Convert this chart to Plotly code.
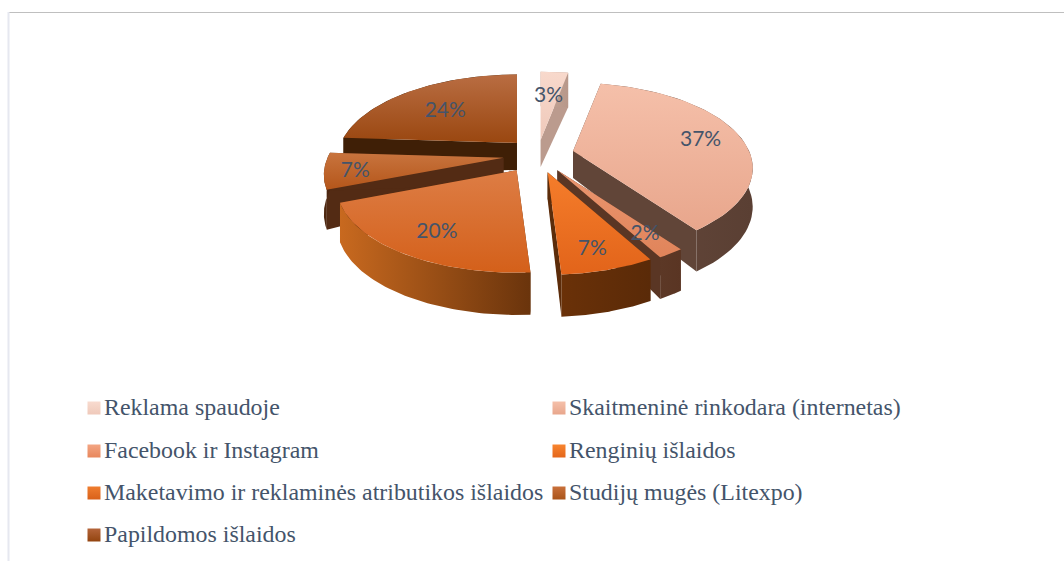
import numpy as np
import plotly.graph_objects as go

categories = ["Reklama spaudoje", "Skaitmeninė rinkodara (internetas)", "Facebook ir Instagram",
              "Renginių išlaidos", "Maketavimo ir reklaminės atributikos išlaidos",
              "Studijų mugės (Litexpo)", "Papildomos išlaidos"]
values = [3, 37, 2, 7, 20, 7, 24]
top_light = ["#f8d9cc", "#f5c0aa", "#ea9670", "#f57d2b", "#dd7d45", "#c8743e", "#b96d42"]
top_dark = ["#efc9ba", "#e8a68c", "#e0845a", "#e2641a", "#d4601a", "#b5561a", "#9a4710"]
wall_left = ["#c4a596", "#66493c", "#5c3826", "#6a3108", "#c8691f", "#4e2810", "#3f1f06"]
wall_right = ["#b8988a", "#5a3f33", "#5a3523", "#5a2a08", "#6a340c", "#4a2410", "#3f1f06"]
cut_color = ["#bb9b8e", "#614538", "#5a3624", "#5c2c0a", "#5e2e0a", "#532b14", "#3f1f06"]
legend_light = ["#f8dbcf", "#f5c0aa", "#f3a583", "#f8852f", "#ef7d2f", "#c9703a", "#b4643a"]
legend_dark = ["#efc9ba", "#e8a68c", "#e8875c", "#e4661b", "#d9611a", "#a9541a", "#93440f"]
label_nudge = [(-2, 9), (8, 2), (6, 5), (1, 7), (2, 3), (-15, 4), (10, 7)]
slice_nudge = [(0, 3), (-1, 0), (0, 0), (0, 0), (0, 0), (4, 0), (6, 1)]

CX, CY = 537, 155
EX, EY = 38, 18
RX, RY, K = 176, 82, 0.2
H_APEX, H_RIM = 27, 38
FONT_LABEL = "#44546a"
FONT_LEGEND = "#44546a"

fig = go.Figure()


def rim(theta):
    w = 1 + K * np.cos(theta)
    return RX * np.sin(theta) / w, -RY * np.cos(theta) / w


def poly(x, y, scale=None, kind="vertical", color=None):
    kw = dict(x=x, y=y, mode="lines", fill="toself", line=dict(width=0),
              hoverinfo="skip", showlegend=False)
    if scale is not None:
        kw["fillgradient"] = dict(type=kind, colorscale=[[0, scale[0]], [1, scale[1]]])
        kw["fillcolor"] = scale[0]
    else:
        kw["fillcolor"] = color
    fig.add_trace(go.Scatter(**kw))


total = sum(values)
edges = np.cumsum([0] + values) / total * 2 * np.pi
mids = (edges[:-1] + edges[1:]) / 2

for i in [6, 0, 5, 1, 4, 2, 3]:
    t = np.linspace(edges[i], edges[i + 1], 60)
    ax = CX + EX * np.sin(mids[i]) + slice_nudge[i][0]
    ay = CY - EY * np.cos(mids[i]) + slice_nudge[i][1]
    dx, dy = rim(t)
    rx = ax + dx
    ry = ay + dy
    hr = H_RIM / (1 + 0.1 * np.cos(t))
    # cut faces
    for j in (0, -1):
        poly([ax, rx[j], rx[j], ax], [ay, ry[j], ry[j] + hr[j], ay + H_APEX], color=cut_color[i])
    # outer rim face
    poly(np.r_[rx, rx[::-1]], np.r_[ry, (ry + hr)[::-1]],
         scale=(wall_left[i], wall_right[i]), kind="horizontal")
    # top face
    poly(np.r_[ax, rx, ax], np.r_[ay, ry, ay], scale=(top_dark[i], top_light[i]), kind="vertical")

lx, ly, lt = [], [], []
for i, v in enumerate(values):
    dx, dy = rim(mids[i])
    lx.append(CX + EX * np.sin(mids[i]) + 0.72 * dx + label_nudge[i][0])
    ly.append(CY - EY * np.cos(mids[i]) + 0.72 * dy + label_nudge[i][1])
    lt.append(f"{v}%")
fig.add_trace(go.Scatter(x=lx, y=ly, text=lt, mode="text", textposition="middle center",
                         textfont=dict(family="Lato", size=21, color=FONT_LABEL),
                         hoverinfo="skip", showlegend=False))

leg_x = [94, 559, 94, 559, 94, 559, 94]
leg_y = [408, 408, 451, 451, 493, 493, 535]
for i, name in enumerate(categories):
    fig.add_trace(go.Scatter(x=[leg_x[i]], y=[leg_y[i]], mode="markers",
                             marker=dict(symbol="square", size=13, color=legend_light[i],
                                         gradient=dict(type="vertical", color=legend_dark[i]),
                                         line=dict(width=0)),
                             hoverinfo="skip", showlegend=False))
    fig.add_trace(go.Scatter(x=[leg_x[i] + 10], y=[leg_y[i] + 1], text=[name], mode="text",
                             textposition="middle right",
                             textfont=dict(family="Liberation Serif", size=23.9, color=FONT_LEGEND),
                             hoverinfo="skip", showlegend=False))

fig.update_layout(
    width=1064, height=561, margin=dict(l=0, r=0, t=0, b=0),
    paper_bgcolor="white", plot_bgcolor="white",
    xaxis=dict(range=[0, 1064], visible=False, fixedrange=True),
    yaxis=dict(range=[561, 0], visible=False, fixedrange=True),
    shapes=[
        dict(type="line", xref="x", yref="y", x0=8, x1=1064, y0=12.5, y1=12.5,
             line=dict(color="#bfbfbf", width=1)),
        dict(type="line", xref="x", yref="y", x0=8.5, x1=8.5, y0=12, y1=561,
             line=dict(color="#e6e8f0", width=2)),
    ],
)
fig.write_html("out.html", config={"displayModeBar": False},
               post_script="document.body.style.margin='0';document.body.style.overflow='hidden';")
